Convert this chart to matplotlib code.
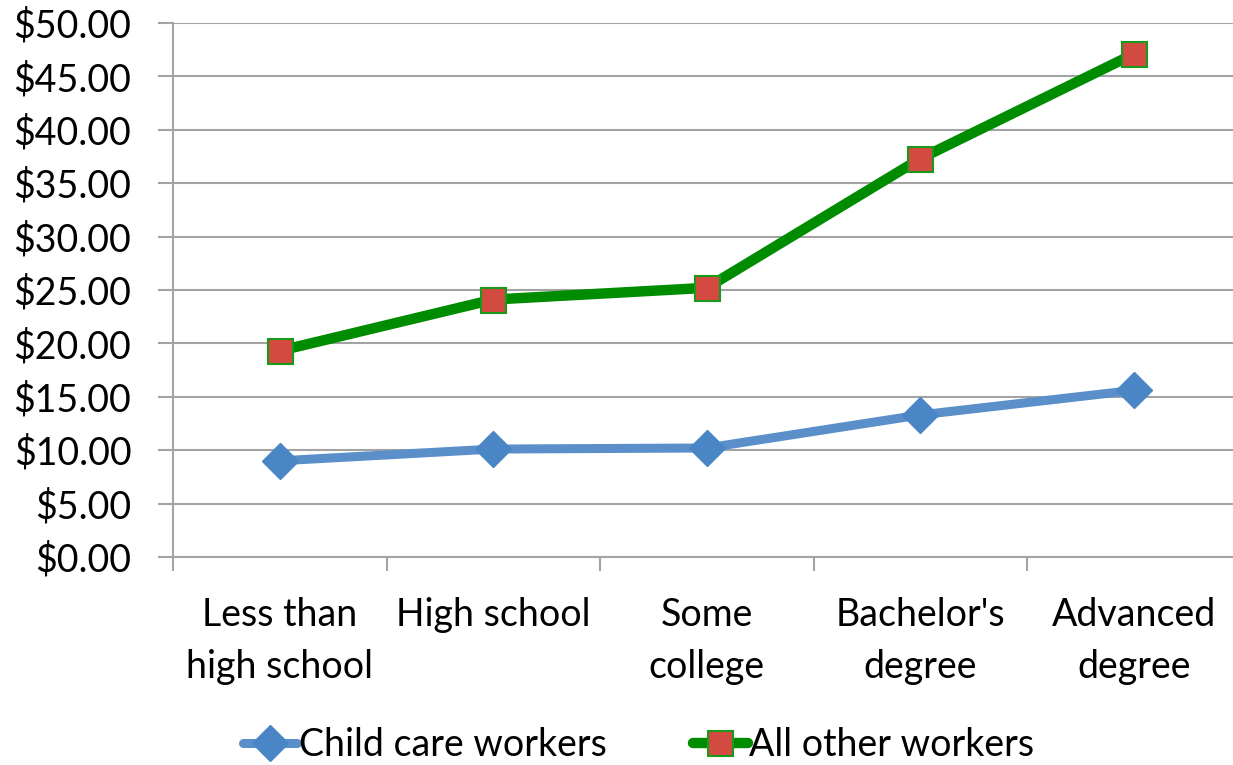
import numpy as np
from matplotlib import pyplot as plt
from matplotlib.ticker import FuncFormatter, MultipleLocator

plt.rcParams['font.family'] = ['Lato', 'DejaVu Sans']

# hourly wages by education level
levels = ['Less than\nhigh school', 'High school', 'Some\ncollege',
          "Bachelor's\ndegree", 'Advanced\ndegree']
child_care = [9.0, 10.1, 10.2, 13.3, 15.6]
all_other = [19.3, 24.1, 25.2, 37.3, 47.1]

grid_col = '#a3a3a3'

fig = plt.figure(figsize=(12.33, 7.65), dpi=100)
ax = fig.add_axes([0.1403, 0.272, 0.866, 0.698])

x = np.arange(len(levels))
ax.plot(x, child_care, color='#5b8fc9', lw=6.5, marker='D', ms=18,
        mfc='#4a86c6', mec='#4a86c6', mew=1, solid_capstyle='round',
        label='Child care workers', zorder=3)
ax.plot(x, all_other, color='#008c00', lw=7.5, marker='s', ms=18,
        mfc='#d24a40', mec='#1a9a1a', mew=1.5, solid_capstyle='round',
        label='All other workers', zorder=4)

ax.set_xlim(-0.5, len(levels) - 0.5)
ax.set_ylim(0, 50)
ax.yaxis.set_major_locator(MultipleLocator(5))
ax.yaxis.set_major_formatter(FuncFormatter(lambda v, p: '${:.2f}'.format(v)))
ax.grid(axis='y', color=grid_col, lw=1.5)
ax.set_axisbelow(True)

# category labels centred, ticks on the boundaries
ax.set_xticks(x)
ax.set_xticklabels(levels, fontsize=27, linespacing=1.55)
ax.tick_params(axis='x', length=0, pad=29)
ax.set_xticks(np.arange(len(levels) + 1) - 0.5, minor=True)
ax.tick_params(axis='x', which='minor', length=10, width=1.5, color=grid_col)
ax.tick_params(axis='y', labelsize=27, length=11, width=1.5, color=grid_col, pad=19)

for s in ['top', 'right']:
    ax.spines[s].set_visible(False)
for s in ['left', 'bottom']:
    ax.spines[s].set_color(grid_col)
    ax.spines[s].set_linewidth(1.5)

h, l = ax.get_legend_handles_labels()
fig.legend(h, l, loc='center', bbox_to_anchor=(0.518, 0.026), ncol=2,
           frameon=False, fontsize=27, handlelength=1.45, handletextpad=0.05,
           columnspacing=2.3, borderpad=0)

fig.savefig('out.png', dpi=100)
